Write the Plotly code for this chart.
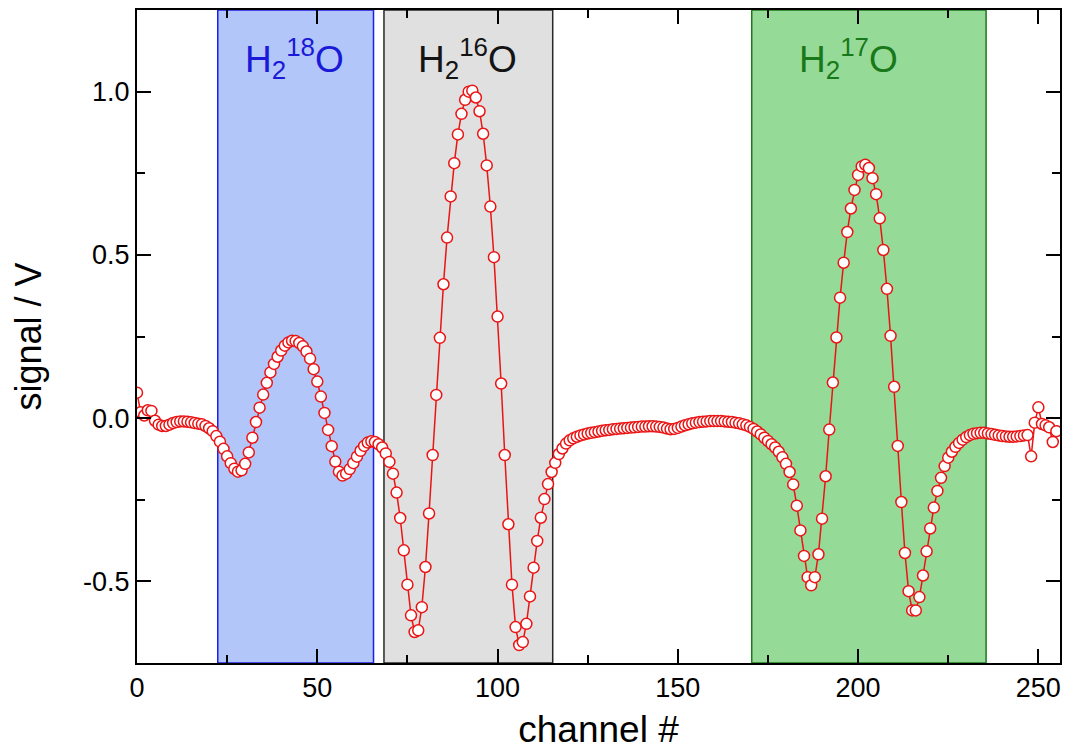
import plotly.graph_objects as go

# Detector signal per channel (channels 0..255)
channels = list(range(256))
signal = [
    0.078, 0.018, 0.008, 0.024, 0.022, -0.008, -0.020, -0.024, -0.024, -0.020,
    -0.015, -0.012, -0.010, -0.010, -0.011, -0.013, -0.015, -0.017, -0.019, -0.024,
    -0.031, -0.040, -0.055, -0.072, -0.094, -0.117, -0.138, -0.155, -0.164, -0.160,
    -0.140, -0.105, -0.060, -0.012, 0.032, 0.072, 0.108, 0.140, 0.166, 0.188,
    0.207, 0.222, 0.232, 0.237, 0.236, 0.230, 0.220, 0.204, 0.182, 0.150,
    0.112, 0.066, 0.016, -0.036, -0.086, -0.133, -0.164, -0.176, -0.170, -0.156,
    -0.138, -0.118, -0.100, -0.085, -0.075, -0.071, -0.073, -0.080, -0.090, -0.108,
    -0.134, -0.170, -0.228, -0.306, -0.405, -0.510, -0.604, -0.655, -0.650, -0.579,
    -0.456, -0.292, -0.113, 0.071, 0.246, 0.410, 0.553, 0.679, 0.781, 0.869,
    0.932, 0.975, 1.000, 1.003, 0.982, 0.940, 0.871, 0.774, 0.648, 0.493,
    0.311, 0.106, -0.113, -0.325, -0.510, -0.640, -0.695, -0.686, -0.630, -0.546,
    -0.458, -0.376, -0.305, -0.248, -0.202, -0.165, -0.137, -0.110, -0.093, -0.078,
    -0.068, -0.062, -0.057, -0.053, -0.050, -0.047, -0.045, -0.043, -0.041, -0.039,
    -0.037, -0.036, -0.034, -0.033, -0.032, -0.031, -0.030, -0.029, -0.028, -0.027,
    -0.026, -0.026, -0.025, -0.025, -0.026, -0.027, -0.029, -0.032, -0.034, -0.033,
    -0.030, -0.026, -0.022, -0.019, -0.016, -0.014, -0.012, -0.011, -0.010, -0.009,
    -0.009, -0.009, -0.009, -0.010, -0.011, -0.012, -0.014, -0.016, -0.019, -0.022,
    -0.027, -0.033, -0.041, -0.050, -0.060, -0.070, -0.080, -0.090, -0.103, -0.120,
    -0.140, -0.165, -0.203, -0.268, -0.344, -0.422, -0.487, -0.512, -0.487, -0.417,
    -0.308, -0.178, -0.035, 0.109, 0.247, 0.369, 0.476, 0.570, 0.642, 0.699,
    0.745, 0.771, 0.776, 0.766, 0.735, 0.686, 0.612, 0.515, 0.396, 0.252,
    0.096, -0.085, -0.257, -0.413, -0.530, -0.589, -0.589, -0.548, -0.482, -0.408,
    -0.338, -0.274, -0.223, -0.183, -0.147, -0.121, -0.103, -0.088, -0.076, -0.066,
    -0.058, -0.052, -0.048, -0.046, -0.045, -0.045, -0.047, -0.049, -0.051, -0.053,
    -0.055, -0.056, -0.057, -0.057, -0.056, -0.055, -0.053, -0.052, -0.117, -0.014,
    0.033, -0.018, -0.022, -0.028, -0.073, -0.040,
]

# Isotopologue windows (channel ranges) and their labels
band_names = ["H<sub>2</sub><sup>18</sup>O", "H<sub>2</sub><sup>16</sup>O", "H<sub>2</sub><sup>17</sup>O"]
band_start = [22.4, 68.5, 170.5]
band_end = [65.6, 115.3, 235.5]
band_fill = ["rgb(178,198,250)", "rgb(224,224,224)", "rgb(150,218,152)"]
band_edge = ["rgb(30,30,235)", "rgb(40,40,40)", "rgb(30,120,30)"]
band_text = ["rgb(25,25,215)", "rgb(20,20,20)", "rgb(25,120,25)"]
label_x = [43.8, 91.7, 197.3]

x_ticks = [0, 50, 100, 150, 200, 250]
y_ticks = [-0.5, 0.0, 0.5, 1.0]
y_tick_text = ["-0.5", "0.0", "0.5", "1.0"]

FONT = "Liberation Sans, Arial, sans-serif"

fig = go.Figure()

fig.add_trace(go.Scatter(
    x=channels, y=signal, mode="lines+markers",
    line=dict(color="rgb(235,20,20)", width=1.5),
    marker=dict(symbol="circle", size=11, color="white",
                line=dict(color="rgb(235,20,20)", width=1.5)),
    showlegend=False,
))

for i in range(len(band_names)):
    fig.add_shape(type="rect", xref="x", yref="paper",
                  x0=band_start[i], x1=band_end[i], y0=0, y1=1,
                  fillcolor=band_fill[i], line=dict(color=band_edge[i], width=1.5),
                  layer="below")
    fig.add_annotation(x=label_x[i], xref="x", y=0.925, yref="paper",
                       text=band_names[i], showarrow=False,
                       font=dict(family=FONT, size=37, color=band_text[i]),
                       xanchor="center", yanchor="middle")

axis_common = dict(
    showline=True, linecolor="black", linewidth=2, mirror="allticks",
    ticks="inside", ticklen=14, tickwidth=2, tickcolor="black",
    showgrid=False, zeroline=False,
    tickfont=dict(family=FONT, size=27, color="black"),
)

fig.update_xaxes(
    range=[0, 256], tickvals=x_ticks,
    minor=dict(dtick=25, ticks="inside", ticklen=8, tickwidth=2, tickcolor="black"),
    title=dict(text="channel #", font=dict(family=FONT, size=37, color="black"), standoff=14),
    **axis_common,
)
fig.update_yaxes(
    range=[-0.75, 1.25], tickvals=y_ticks, ticktext=y_tick_text,
    minor=dict(dtick=0.25, ticks="inside", ticklen=8, tickwidth=2, tickcolor="black"),
    title=dict(text="signal / V", font=dict(family=FONT, size=36, color="black"), standoff=30),
    **axis_common,
)

fig.update_layout(
    width=1069, height=754,
    margin=dict(l=137, r=7, t=10, b=91),
    plot_bgcolor="white", paper_bgcolor="white",
)

fig.write_html("out.html")
